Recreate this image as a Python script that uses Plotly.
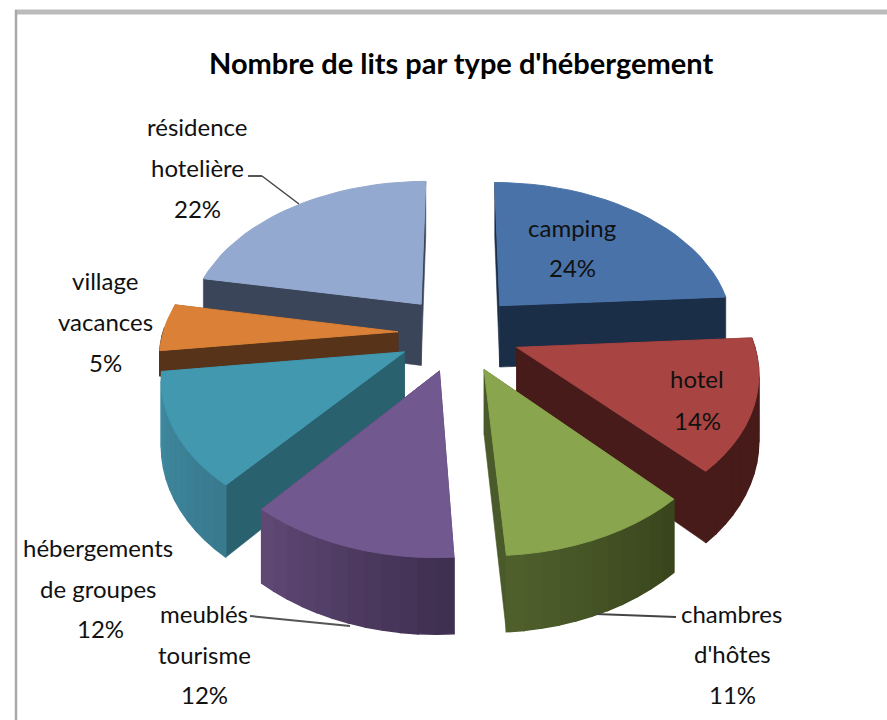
import math
import plotly.graph_objects as go

title = "Nombre de lits par type d'hébergement"
categories = ["camping", "hotel", "chambres d'hôtes", "meublés tourisme",
              "hébergements de groupes", "village vacances", "résidence hotelière"]
values = [24, 14, 11, 12, 12, 5, 22]
draw_order = [6, 0, 5, 1, 4, 2, 3]
top_colors = ["#4872A8", "#A84442", "#89A54E", "#71588F", "#4198AF", "#DA8137", "#93A9CF"]
wall_colors = ["#1B2E47", "#471B19", "#4A5A2A", "#3F2F50", "#2A616F", "#57331A", "#3B4559"]
arc_start = ["#1B2E47", "#471B19", "#3A451D", "#3F2F50", "#3A7A8F", "#57331A", "#3B4559"]
arc_end = ["#1B2E47", "#471B19", "#4E5F2C", "#5F4874", "#3F8CA2", "#57331A", "#3B4559"]
wall_depth = [1, 1, 1, 1, 1, 0.4, 1]

# Label lines: text, centre x, centre y in chart pixels
label_lines = [
    ("camping", 572, 227), ("24%", 572, 267),
    ("hotel", 697, 378), ("14%", 697, 420),
    ("chambres", 731, 613), ("d'hôtes", 732, 653), ("11%", 732, 694),
    ("meublés", 204, 613), ("tourisme", 204, 654), ("12%", 204, 694),
    ("hébergements", 98, 547), ("de groupes", 98, 588), ("12%", 100, 628),
    ("village", 105, 280), ("vacances", 105, 321), ("5%", 105, 362),
    ("résidence", 197, 126), ("hotelière", 197, 167), ("22%", 197, 208),
]

# Projection of the tilted pie
CX, CY, A, B, D, H, PULL = 459, 333, 235, 148, 7, 63, 0.26


def project(x, y, z):
    f = D / (D + y)
    return CX + A * x * f, CY - B * y * f + H * z * f


def mix(c1, c2, t):
    a = [int(c1[i:i + 2], 16) for i in (1, 3, 5)]
    b = [int(c2[i:i + 2], 16) for i in (1, 3, 5)]
    return "#%02X%02X%02X" % tuple(round(p + (q - p) * t) for p, q in zip(a, b))


fig = go.Figure()


def poly(points, color, width=0.6):
    xs, ys = zip(*points)
    fig.add_trace(go.Scatter(x=list(xs) + [xs[0]], y=list(ys) + [ys[0]], mode="lines",
                             fill="toself", fillcolor=color,
                             line=dict(color=color, width=width),
                             hoverinfo="skip", showlegend=False))


total = sum(values)
starts = [sum(values[:i]) / total * 2 * math.pi for i in range(len(values))]
for i in draw_order:
    a0 = starts[i]
    a1 = a0 + values[i] / total * 2 * math.pi
    mid = (a0 + a1) / 2
    ox, oy = PULL * math.sin(mid), PULL * math.cos(mid)
    z = wall_depth[i]
    n = max(6, int(values[i]))
    angles = [a0 + (a1 - a0) * k / n for k in range(n + 1)]
    rim = [(ox + math.sin(t), oy + math.cos(t)) for t in angles]
    faces = []
    for side in (rim[0], rim[-1]):
        faces.append(((oy + side[1]) / 2,
                      [project(ox, oy, 0), project(*side, 0), project(*side, z), project(ox, oy, z)],
                      wall_colors[i], 0.6))
    for k in range(n):
        if math.cos((angles[k] + angles[k + 1]) / 2) > 0.05:
            continue  # back of the rim is hidden by the top face
        p, q = rim[k], rim[k + 1]
        faces.append(((p[1] + q[1]) / 2,
                      [project(*p, 0), project(*q, 0), project(*q, z), project(*p, z)],
                      mix(arc_start[i], arc_end[i], k / max(1, n - 1)), 1.5))
    for face in sorted(faces, key=lambda f: -f[0]):
        poly(face[1], face[2], face[3])
    poly([project(ox, oy, 0)] + [project(*p, 0) for p in rim], top_colors[i], 1)

annotations = [dict(x=x, y=y, text=t, showarrow=False, xref="x", yref="y",
                    font=dict(family="Lato", size=24, color="#111111"))
               for t, x, y in label_lines]
annotations.append(dict(x=461, y=62, text="<b>%s</b>" % title, showarrow=False, xref="x", yref="y",
                        font=dict(family="Lato", size=29, color="#000000")))

line = lambda x0, y0, x1, y1, c, w: dict(type="line", x0=x0, y0=y0, x1=x1, y1=y1, xref="x", yref="y",
                                          line=dict(color=c, width=w))
shapes = [
    line(15, 12, 887, 12, "#BBBBBB", 5),
    line(16, 10, 16, 720, "#A8A8A8", 2.5),
    line(248, 176, 262, 176, "#555555", 2),
    line(262, 176, 299, 204, "#444444", 1.5),
    line(250, 616, 350, 626, "#555555", 2),
    line(596, 614, 676, 617, "#444444", 2),
]

fig.update_layout(
    margin=dict(l=0, r=0, t=0, b=0), width=887, height=720,
    paper_bgcolor="white", plot_bgcolor="white", showlegend=False,
    xaxis=dict(range=[0, 887], visible=False, fixedrange=True),
    yaxis=dict(range=[720, 0], visible=False, fixedrange=True),
    annotations=annotations, shapes=shapes,
)
fig.write_html("out.html", config=dict(displayModeBar=False),
               post_script="document.body.style.margin='0';")
